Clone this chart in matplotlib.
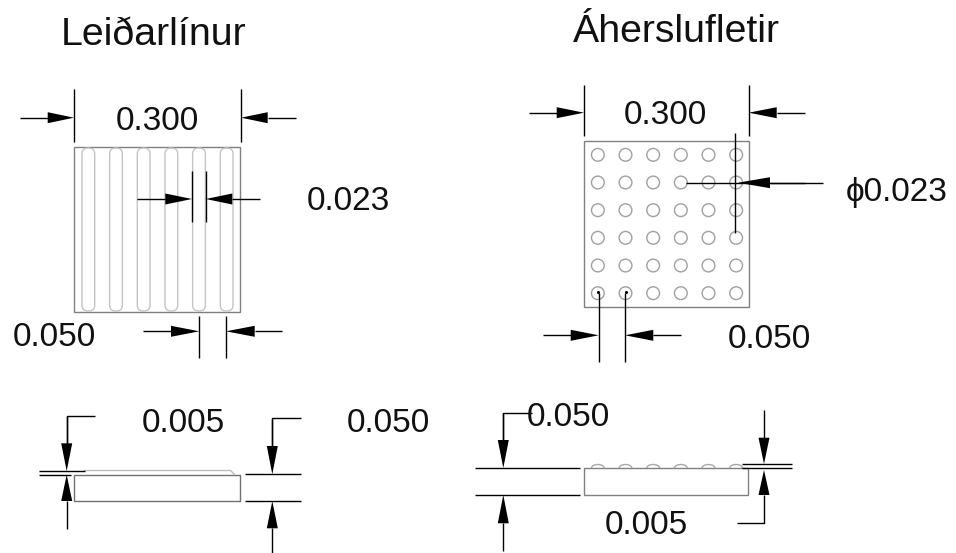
# Teikning: leidarlinur og aherslufletir (mal i pixlum a myndinni)
import matplotlib
matplotlib.use('Agg')
import matplotlib.pyplot as plt
from matplotlib.patches import Arc, Circle, FancyBboxPatch, Polygon, Rectangle

# Mal plotunnar
plate_width = 0.300
pitch = 0.050
diameter = 0.023
thickness = 0.050
n_rows = 6

# Titlar og malatolur: (texti, x, y)
titles = [('Leiðarlínur', 154, 35), ('Áherslufletir', 676, 32)]
dim_labels = [
    ('0.300', 157, 121), ('0.023', 348, 202), ('0.050', 54, 338),
    ('0.300', 665, 116), ('\u03d50.023', 897, 192), ('0.050', 769, 340),
    ('0.005', 183, 424), ('0.050', 388, 423),
    ('0.050', 568, 418), ('0.005', 646, 526),
]

# Hjalparlinur: lista af brotnum linum
lines = [
    # efri mynd, vinstri
    [(74.5, 89), (74.5, 141.5)], [(241, 89), (241, 141.5)],
    [(192, 171), (192, 222)], [(205.7, 171), (205.7, 222)],
    [(199.3, 316), (199.3, 358)], [(226, 316), (226, 358)],
    # efri mynd, haegri
    [(584, 85), (584, 136)], [(748.7, 85), (748.7, 136)],
    [(735, 133), (735, 233)], [(685.7, 182.7), (822.7, 182.7)],
    [(598.7, 293), (598.7, 362)], [(625, 293), (625, 362)],
    # nedri mynd, vinstri
    [(95, 415.7), (66.7, 415.7), (66.7, 445)],
    [(39, 471), (85, 471)], [(39, 474.7), (70.7, 474.7)],
    [(300.7, 418.3), (272.3, 418.3), (272.3, 448)],
    [(245, 474.3), (300.7, 474.3)], [(245, 501), (300.7, 501)],
    # nedri mynd, haegri
    [(531.7, 412.7), (503.3, 412.7), (503.3, 442)],
    [(475, 468), (580, 468)], [(475, 495), (580, 495)],
    [(741.7, 464), (791.7, 464)], [(741.7, 468), (791.7, 468)],
    [(764, 495), (764, 522.7), (736.7, 522.7)],
]

# Orvar: (oddur x, oddur y, botn x, botn y, halaendi x, halaendi y)
arrows = [
    (74, 117.7, 47.7, 117.7, 20, 117.7), (241, 117.7, 267.7, 117.7, 295.7, 117.7),
    (192, 199, 165.3, 199, 137.3, 199), (205.7, 199, 232.3, 199, 260, 199),
    (199.3, 331.3, 171, 331.3, 143.3, 331.3), (226, 331.3, 254.7, 331.3, 282.3, 331.3),
    (584, 112.7, 556.7, 112.7, 529.3, 112.7), (748.7, 112.7, 776.7, 112.7, 805, 112.7),
    (738, 182.7, 770, 182.7, 805, 182.7),
    (598.7, 335.3, 570.7, 335.3, 542.7, 335.3), (625, 335.3, 653.3, 335.3, 681.3, 335.3),
    (66.7, 471, 66.7, 443.3, 66.7, 416), (66.7, 474.7, 66.7, 501, 66.7, 529.3),
    (272.3, 474.3, 272.3, 446, 272.3, 419), (272.3, 501, 272.3, 528.3, 272.3, 552.7),
    (503.3, 468, 503.3, 440, 503.3, 413), (503.3, 495, 503.3, 523.3, 503.3, 551),
    (764, 464, 764, 437.7, 764, 410), (764, 470, 764, 495, 764, 495),
]

left_box = (74.5, 147)
right_box = (584, 141)
side_left = (74.5, 474.5)
side_right = (584, 468)

scale = 166 / plate_width
col_w = pitch * scale
dia = diameter * scale
thick = thickness * scale

fig = plt.figure(figsize=(9.56, 5.53), dpi=100)
ax = fig.add_axes([0, 0, 1, 1])
ax.set_xlim(0, 956)
ax.set_ylim(553, 0)
ax.axis('off')

# Vinstri plata med leidarlinum
ax.add_patch(Rectangle(left_box, 166, 165, fill=False, ec='#808080', lw=1.0))
for i in range(n_rows):
    cx = left_box[0] + col_w * (i + 0.5)
    ax.add_patch(FancyBboxPatch((cx - dia / 2, left_box[1] + 1), dia, 163,
                                boxstyle='round,pad=0,rounding_size=6',
                                fill=False, ec='#c4c4c4', lw=1.0))

# Haegri plata med punktum
ax.add_patch(Rectangle(right_box, 165, 165.5, fill=False, ec='#808080', lw=1.0))
for r in range(n_rows):
    for c in range(n_rows):
        cx = right_box[0] + col_w * (c + 0.5)
        cy = right_box[1] + col_w * (r + 0.5)
        ax.add_patch(Circle((cx, cy), dia / 2, fill=False, ec='#a0a0a0', lw=1.0))
ax.plot([598, 625.7], [291.7, 291.7], ls='none', marker='o', ms=1.2, color='black')

# Hlidarmyndir
ax.add_patch(Rectangle(side_left, 166, thick - 1, fill=False, ec='#707070', lw=1.0))
ax.plot([side_left[0] + 10, side_left[0] + 156, side_left[0] + 160],
        [470.5, 470.5, 474.5], color='#bdbdbd', lw=1.0)
ax.add_patch(Rectangle(side_right, 164, thick - 0.6, fill=False, ec='#808080', lw=1.0))
for c in range(n_rows):
    cx = side_right[0] + col_w * (c + 0.5)
    ax.add_patch(Arc((cx, side_right[1]), dia, 7, theta1=180, theta2=360,
                     ec='#a8a8a8', lw=1.0))

# Malalinur
for pts in lines:
    ax.plot([p[0] for p in pts], [p[1] for p in pts], color='black', lw=1.0,
            solid_capstyle='butt')

for tx, ty, bx, by, ex, ey in arrows:
    ax.plot([bx, ex], [by, ey], color='black', lw=1.0, solid_capstyle='butt')
    if tx == bx:
        head = [(tx, ty), (bx - 5.5, by), (bx + 5.5, by)]
    else:
        head = [(tx, ty), (bx, by - 5.5), (bx, by + 5.5)]
    ax.add_patch(Polygon(head, closed=True, fc='black', ec='none'))

for text, x, y in titles:
    ax.text(x, y, text, ha='center', va='center', fontsize=28.3,
            family='Liberation Sans', color='#111111')
for text, x, y in dim_labels:
    ax.text(x, y, text, ha='center', va='center', fontsize=24,
            family=['Liberation Sans', 'DejaVu Sans'], color='#111111')

fig.savefig('out.png', dpi=100)
